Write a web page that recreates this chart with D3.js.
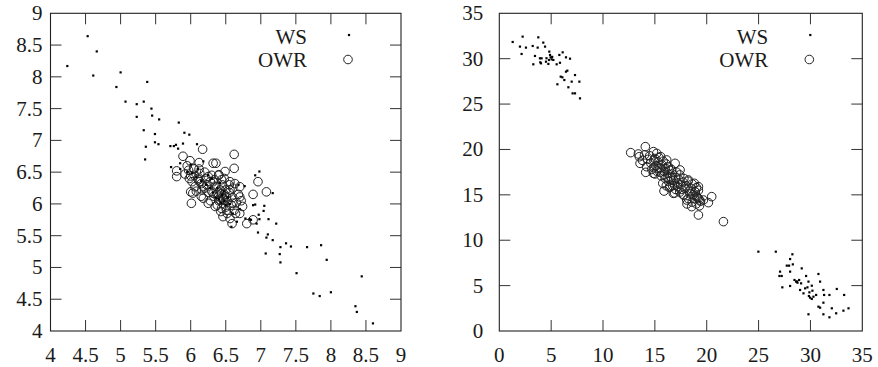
<!DOCTYPE html>
<html>
<head>
<meta charset="utf-8">
<script src="https://cdn.jsdelivr.net/npm/d3@7"></script>
<style>
  body { margin: 0; background: #fff; }
</style>
</head>
<body>
<script>
// ---------- data ----------
// left panel
var leftXTicks = [4, 4.5, 5, 5.5, 6, 6.5, 7, 7.5, 8, 8.5, 9];
var leftYTicks = [4, 4.5, 5, 5.5, 6, 6.5, 7, 7.5, 8, 8.5, 9];

var leftWS = [
  [4.53,8.64],[4.66,8.40],[4.24,8.17],[4.61,8.02],[5.00,8.07],[4.94,7.84],[5.38,7.92],
  [5.07,7.61],[5.23,7.57],[5.33,7.61],[5.44,7.50],[5.23,7.37],[5.45,7.39],[5.55,7.33],
  [5.33,7.16],[5.49,7.10],[5.36,6.90],[5.49,6.97],[5.54,6.94],[5.35,6.70],[5.83,7.28],
  [5.91,7.12],[5.98,7.09],[5.71,6.91],[5.76,6.91],[5.79,6.93],[5.82,6.87],[5.89,6.95],
  [6.09,6.94],[5.72,6.58],[5.85,6.64],
  [6.92,6.45],[6.98,6.51],[7.17,6.17],[6.89,5.98],[6.92,5.99],[7.05,5.97],[7.04,5.89],
  [6.97,5.83],[6.98,5.76],[7.11,5.76],[7.22,5.69],[6.78,5.77],[6.84,5.76],[6.86,5.75],
  [6.94,5.69],[6.66,5.72],[6.96,5.55],[7.10,5.52],[7.08,5.47],[7.17,5.43],[7.36,5.38],
  [7.28,5.32],[7.43,5.33],[7.66,5.32],[7.86,5.35],[7.27,5.21],[7.07,5.22],[7.28,5.08],
  [7.94,5.12],[7.51,4.91],[8.44,4.86],[7.75,4.59],[7.84,4.55],[8.00,4.61],[8.35,4.39],
  [8.37,4.30],[8.60,4.12],
  [5.95,6.50],[6.02,6.48],[6.08,6.42],[6.15,6.36],[6.22,6.30],[6.28,6.25],[6.32,6.18],
  [6.36,6.10],[6.40,6.08],[6.43,6.02],[6.45,6.14],[6.48,6.05],[6.50,5.98],[6.53,6.10],
  [6.56,6.00],[6.42,6.33],[6.18,6.67],[6.68,6.30],[6.77,6.28],[6.58,5.64],[6.00,6.62],
  [6.10,6.55],[6.25,6.45],[5.85,6.55],[6.30,6.40],[6.60,5.85],[6.70,5.92],[6.38,6.25],
  [6.47,6.20]
];

var leftOWR = [
  [6.17,6.86],[6.62,6.78],[5.89,6.75],[5.99,6.68],[6.12,6.65],[6.32,6.64],[6.36,6.64],
  [5.80,6.52],[5.80,6.43],[5.97,6.53],[6.04,6.56],[6.62,6.56],[6.49,6.51],[6.40,6.46],
  [6.13,6.48],[6.25,6.43],[6.00,6.44],[6.56,6.35],[6.63,6.32],[6.70,6.27],[6.96,6.35],
  [7.08,6.19],[6.89,6.15],[6.00,6.19],[6.03,6.17],[6.01,6.01],[6.18,6.09],[6.25,6.01],
  [6.16,6.22],[6.32,6.17],[6.42,6.06],[6.44,5.93],[6.46,5.80],[6.59,5.69],[6.64,5.85],
  [6.74,5.96],[6.80,5.69],[6.89,5.75],[6.70,6.11],[6.60,6.01],[6.51,6.11],[6.37,6.27],
  [6.23,6.30],[6.11,6.38],[6.32,6.35],[6.44,6.38],[6.56,6.22],[6.47,6.06],[6.35,5.96],
  [6.51,5.90],[6.56,5.77],[6.70,5.85],[6.13,6.35],[6.06,6.27],
  [6.05,6.45],[6.10,6.40],[6.15,6.32],[6.20,6.25],[6.22,6.40],[6.28,6.35],[6.30,6.20],
  [6.33,6.12],[6.38,6.15],[6.40,6.05],[6.42,6.22],[6.45,6.10],[6.47,6.00],[6.48,6.15],
  [6.50,5.95],[6.52,6.05],[6.55,6.18],[6.58,5.98],[6.60,6.10],[6.62,5.90],[6.65,6.02],
  [6.68,6.15],[6.45,6.30],[6.35,6.28],[6.25,6.18],[6.18,6.28],[6.12,6.55],[6.08,6.20],
  [5.95,6.60],[5.92,6.47],[5.98,6.40],[6.02,6.35],[6.28,6.05],[6.38,5.98],[6.43,5.88],
  [6.52,5.85],[6.55,6.30],[6.60,6.25],[6.72,6.05],[6.48,6.40],[6.40,6.45],[6.20,6.50],
  [6.15,6.12],[6.30,6.45],[6.05,6.55],[6.34,6.38],[6.44,6.16],[6.46,6.08],[6.40,6.12],
  [6.50,6.22]
];

// right panel
var rightXTicks = [0, 5, 10, 15, 20, 25, 30, 35];
var rightYTicks = [0, 5, 10, 15, 20, 25, 30, 35];

var rightWS = [
  [1.29,31.84],[2.25,32.43],[1.99,31.33],[2.57,31.22],[2.15,30.52],[3.22,31.40],[3.76,32.35],
  [3.70,31.22],[4.24,31.77],[4.41,31.33],[3.28,29.38],[3.44,30.30],[3.92,30.04],[4.08,30.04],
  [4.02,29.49],[4.50,29.67],[4.82,30.78],[4.89,30.41],[4.95,30.15],[4.79,29.86],[5.05,29.93],
  [5.21,29.86],[4.73,29.42],[5.53,29.38],[5.79,30.41],[6.11,30.70],[6.43,30.15],[6.82,30.00],
  [5.60,27.18],[5.92,28.02],[6.08,27.95],[6.27,27.65],[6.43,28.57],[6.56,28.68],[6.66,26.85],
  [6.98,27.47],[7.30,28.20],[7.07,26.18],[7.30,26.18],[7.72,27.47],[7.78,25.63],[5.85,29.55],
  [3.95,29.60],[4.55,30.05],[5.10,30.20],
  [24.98,8.74],[26.66,8.74],[28.26,8.45],[28.04,7.93],[28.30,7.34],[27.72,7.20],[27.94,7.20],
  [27.07,6.54],[27.23,6.06],[27.01,6.06],[28.04,6.54],[28.46,5.62],[28.62,5.44],[28.75,5.32],
  [28.91,5.62],[29.10,5.25],[27.29,4.81],[28.04,4.96],[29.16,6.90],[29.58,6.06],[29.81,5.44],
  [29.49,4.70],[29.71,4.81],[29.00,4.52],[29.33,4.15],[29.90,4.26],[30.19,4.44],[29.97,3.67],
  [30.13,3.53],[30.29,3.78],[30.13,4.99],[30.55,3.97],[30.77,6.28],[30.93,5.44],[31.25,4.52],
  [31.32,3.97],[31.83,3.97],[30.77,2.68],[30.93,2.57],[31.25,3.12],[29.81,1.84],[31.25,1.84],
  [31.83,1.51],[32.06,2.50],[32.48,1.95],[32.54,4.63],[33.25,3.97],[33.18,2.24],[33.67,2.50],
  [28.70,5.45],[29.85,3.85]
];

var rightOWR = [
  [12.67,19.65],[13.41,19.50],[14.08,20.31],[13.57,18.47],[14.12,17.48],[14.86,19.76],
  [15.18,19.57],[15.56,19.21],[14.86,17.37],[15.76,16.27],[15.88,15.42],[16.14,18.84],
  [16.95,18.47],[17.43,17.74],[18.23,16.64],[18.81,16.27],[19.20,15.90],[19.68,14.43],
  [20.16,14.14],[20.48,14.80],[19.20,12.78],[18.55,13.70],[18.07,14.43],[21.61,12.05],
  [16.78,15.17],[17.75,14.98],[16.46,15.90],[18.87,15.35],[19.04,14.80],[19.29,14.43],
  [14.3,18.9],[14.6,18.5],[14.9,18.8],[15.1,18.2],[15.3,18.6],[15.5,18.0],[15.7,18.3],
  [15.9,17.6],[16.0,17.9],[16.2,17.4],[16.4,17.7],[16.5,17.0],[16.7,17.3],[16.8,16.6],
  [17.0,16.9],[17.2,16.3],[17.3,16.7],[17.5,16.1],[17.7,16.4],[17.9,15.7],[18.0,16.0],
  [18.3,15.4],[18.5,15.7],[18.7,15.0],[18.9,15.3],[19.1,14.7],[14.5,19.3],[15.0,19.0],
  [15.4,19.1],[15.8,18.7],[16.1,18.4],[16.3,18.1],[16.6,17.8],[17.1,17.5],[17.4,17.2],
  [17.8,16.8],[18.2,16.5],[18.6,16.2],[19.0,15.8],[19.2,15.5],[14.2,18.1],[14.7,17.8],
  [15.2,17.6],[15.6,17.1],[16.0,16.8],[16.3,16.5],[16.7,16.0],[17.0,15.6],[17.4,15.3],
  [17.8,15.0],[18.2,14.6],[18.6,14.2],[19.0,14.0],[19.3,13.8],[14.0,19.4],[13.8,18.8],
  [13.5,19.2],[15.5,17.5],[16.9,16.2],[17.6,15.6],[16.2,16.9],[16.6,16.6],[15.9,17.2],
  [17.2,15.9],[18.4,15.1],[18.8,14.6],[15.3,17.9],[14.9,18.0],[16.4,15.8],[16.9,15.2],
  [19.4,14.3],[19.2,14.6],[18.1,14.0],[16.1,16.0],[15.0,17.3]
];

var legendLabels = ['WS', 'OWR'];

// ---------- drawing ----------
var W = 878, H = 367;
var FONT = "Liberation Serif";

var svg = d3.select('body').append('svg')
    .attr('width', W)
    .attr('height', H)
    .attr('font-family', FONT)
    .attr('font-size', 21);

var tickLen = 11;

function label(g, x, y, anchor, txt) {
    return g.append('text')
        .attr('x', x).attr('y', y)
        .attr('text-anchor', anchor)
        .attr('font-family', FONT)
        .attr('font-size', 21)
        .attr('fill', '#1a1a1a')
        .text(txt);
}

function drawPanel(cfg) {
    var x = d3.scaleLinear().domain(cfg.xDomain).range([cfg.left, cfg.right]);
    var y = d3.scaleLinear().domain(cfg.yDomain).range([cfg.bottom, cfg.top]);
    var g = svg.append('g');

    // ticks, mirrored on all four sides, pointing inward
    cfg.xTicks.forEach(function(t) {
        if (t === cfg.xDomain[0] || t === cfg.xDomain[1]) return;
        g.append('line').attr('x1', x(t)).attr('x2', x(t))
            .attr('y1', cfg.bottom).attr('y2', cfg.bottom - tickLen)
            .attr('stroke', '#333').attr('stroke-width', 1);
        g.append('line').attr('x1', x(t)).attr('x2', x(t))
            .attr('y1', cfg.top).attr('y2', cfg.top + tickLen)
            .attr('stroke', '#333').attr('stroke-width', 1);
    });
    cfg.yTicks.forEach(function(t) {
        if (t === cfg.yDomain[0] || t === cfg.yDomain[1]) return;
        g.append('line').attr('y1', y(t)).attr('y2', y(t))
            .attr('x1', cfg.left).attr('x2', cfg.left + tickLen)
            .attr('stroke', '#333').attr('stroke-width', 1);
        g.append('line').attr('y1', y(t)).attr('y2', y(t))
            .attr('x1', cfg.right).attr('x2', cfg.right - tickLen)
            .attr('stroke', '#333').attr('stroke-width', 1);
    });

    // frame
    g.append('rect')
        .attr('x', cfg.left).attr('y', cfg.top)
        .attr('width', cfg.right - cfg.left).attr('height', cfg.bottom - cfg.top)
        .attr('fill', 'none').attr('stroke', '#222').attr('stroke-width', 1.1);

    // tick labels
    cfg.xTicks.forEach(function(t) {
        label(g, x(t), 362, 'middle', t);
    });
    cfg.yTicks.forEach(function(t) {
        label(g, cfg.left - cfg.yLabelGap, y(t) + 7, 'end', t);
    });

    // OWR open circles
    g.selectAll('.owr').data(cfg.owr).enter().append('circle')
        .attr('cx', function(d) { return x(d[0]); })
        .attr('cy', function(d) { return y(d[1]); })
        .attr('r', 4.3)
        .attr('fill', 'none')
        .attr('stroke', '#222')
        .attr('stroke-width', 1);

    // WS small dots
    g.selectAll('.ws').data(cfg.ws).enter().append('rect')
        .attr('x', function(d) { return x(d[0]) - 1.1; })
        .attr('y', function(d) { return y(d[1]) - 1.1; })
        .attr('width', 2.2).attr('height', 2.2)
        .attr('fill', '#000');

    // legend
    var lx = cfg.right - 94, mx = cfg.right - 52;
    label(g, lx, 44, 'end', legendLabels[0]);
    label(g, lx, 67, 'end', legendLabels[1]);
    g.append('rect').attr('x', mx - 1.1).attr('y', 35 - 1.1).attr('width', 2.2).attr('height', 2.2).attr('fill', '#000');
    g.append('circle').attr('cx', mx - 1).attr('cy', 59.5).attr('r', 4.3)
        .attr('fill', 'none').attr('stroke', '#222').attr('stroke-width', 1);
}

drawPanel({
    left: 50.5, right: 401, top: 13.3, bottom: 331,
    xDomain: [4, 9], yDomain: [4, 9],
    xTicks: leftXTicks, yTicks: leftYTicks,
    yLabelGap: 8,
    ws: leftWS, owr: leftOWR
});

drawPanel({
    left: 499.3, right: 862.3, top: 13.3, bottom: 331,
    xDomain: [0, 35], yDomain: [0, 35],
    xTicks: rightXTicks, yTicks: rightYTicks,
    yLabelGap: 16,
    ws: rightWS, owr: rightOWR
});
</script>
</body>
</html>
